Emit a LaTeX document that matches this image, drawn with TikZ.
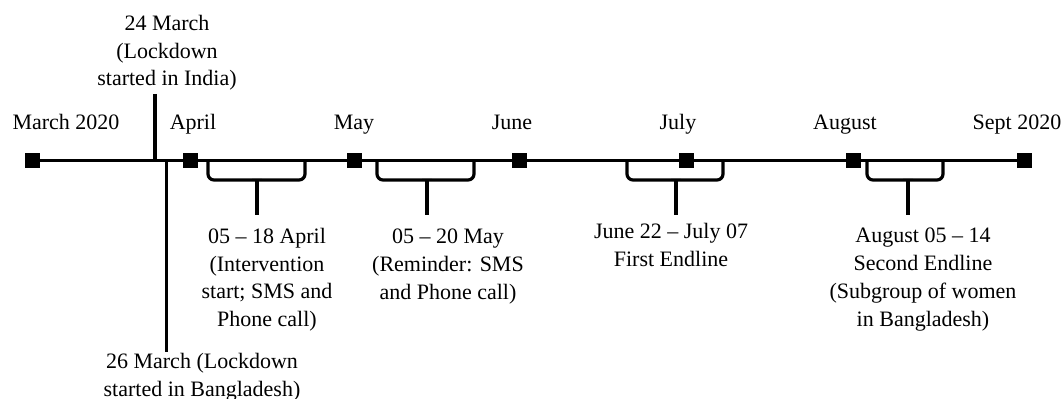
\documentclass[tikz,border=0pt]{standalone}
\usepackage{fontspec}
\setmainfont{Liberation Serif}
\begin{document}
\begin{tikzpicture}[x=0.75pt,y=-0.75pt,
  lbl/.style={font=\fontsize{16.5}{20.8}\selectfont, inner sep=0pt, align=center},
  tickbox/.style={fill=black, draw=none, minimum size=11.25pt, inner sep=0pt},
  axis/.style={line width=2.6pt},
  vline/.style={line width=2.6pt},
  bracepath/.style={line width=2.4pt, rounded corners=4.5pt},
  spike/.style={line width=2.4pt}]
\useasboundingbox (0,0) rectangle (1064,399);

% month squares
\node[tickbox] (m0) at (32,160.5) {};
\node[tickbox] (m1) at (190,160.5) {};
\node[tickbox] (m2) at (354,160.5) {};
\node[tickbox] (m3) at (519,160.5) {};
\node[tickbox] (m4) at (686,160.5) {};
\node[tickbox] (m5) at (853,160.5) {};
\node[tickbox] (m6) at (1024,160.5) {};
\draw[axis] (m0.center) -- (m6.center);

% month labels
\node[lbl, anchor=base] (l0) at (66,130) {March 2020};
\node[lbl, anchor=base] (l1) at (193,130) {April};
\node[lbl, anchor=base] (l2) at (354,130) {May};
\node[lbl, anchor=base] (l3) at (512,130) {June};
\node[lbl, anchor=base] (l4) at (678,130) {July};
\node[lbl, anchor=base] (l5) at (845,130) {August};
\node[lbl, anchor=base] (l6) at (1017,130) {Sept 2020};

% lockdown markers
\node[lbl, anchor=north] (ind) at (167,15) {24 March\\(Lockdown\\started in India)};
\coordinate (ind top) at (155,94);
\coordinate (ind bot) at (155,160);
\draw[vline] (ind top) -- (ind bot);

\node[lbl, anchor=north] (bgd) at (202,353) {26 March (Lockdown\\started in Bangladesh)};
\coordinate (bgd top) at (166.5,160);
\coordinate (bgd bot) at (166.5,352);
\draw[vline] (bgd top) -- (bgd bot);

% braces
\foreach \xl/\xc/\xr/\nm in {208/257/305/b1, 377/427/474/b2, 627/676/723/b3, 867/908/943/b4}{
  \draw[bracepath] (\xl,161) -- (\xl,180) -- (\xr,180) -- (\xr,161);
  \coordinate (\nm) at (\xc,215);
  \draw[spike] (\xc,180) -- (\nm);
  \fill (\xc-5,179) .. controls (\xc-1.5,179.5) and (\xc-1.2,182) .. (\xc-1.2,188)
        -- (\xc+1.2,188) .. controls (\xc+1.2,182) and (\xc+1.5,179.5) .. (\xc+5,179) -- cycle;
}

\node[lbl, anchor=north] (t1) at (267,228) {05 -- 18 April\\(Intervention\\start; SMS and\\Phone call)};
\node[lbl, anchor=north] (t2) at (448,229) {05 -- 20 May\\(Reminder: SMS\\and Phone call)};
\node[lbl, anchor=north] (t3) at (671,223) {June 22 -- July 07\\First Endline};
\node[lbl, anchor=north] (t4) at (923,228) {August 05 -- 14\\Second Endline\\(Subgroup of women\\in Bangladesh)};
\end{tikzpicture}
\end{document}
